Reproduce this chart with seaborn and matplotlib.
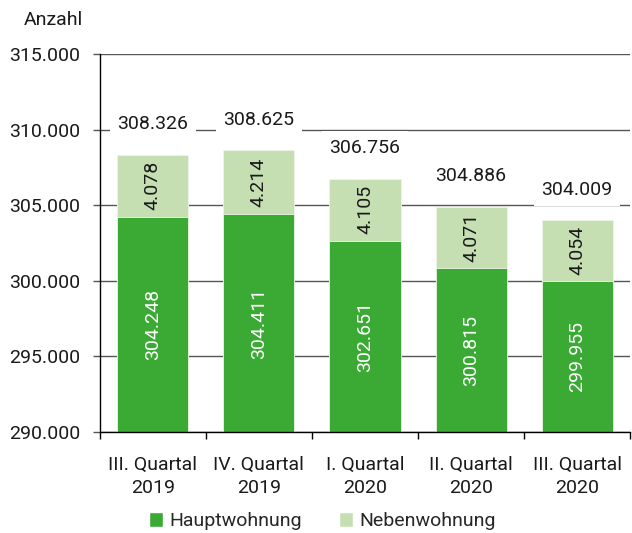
import pandas as pd
import matplotlib.pyplot as plt
import seaborn as sns
from matplotlib.patches import Patch

# Werte aus der Grafik
quartale = ["III. Quartal\n2019", "IV. Quartal\n2019", "I. Quartal\n2020",
            "II. Quartal\n2020", "III. Quartal\n2020"]
hauptwohnung = [304248, 304411, 302651, 300815, 299955]
nebenwohnung = [4078, 4214, 4105, 4071, 4054]
gesamt = [308326, 308625, 306756, 304886, 304009]

farbe_haupt = "#3aaa35"
farbe_neben = "#c5dfb3"

df = pd.DataFrame({"Quartal": quartale,
                   "Haupt": hauptwohnung,
                   "Neben": nebenwohnung,
                   "Gesamt": gesamt})

sns.set_style("white")
plt.rcParams["font.family"] = ["Roboto", "DejaVu Sans"]
fs = 14

fig = plt.figure(figsize=(6.32, 5.33), dpi=100)
ax = fig.add_axes([0.158, 0.1895, 0.839, 0.7092])


def de(v):
    return f"{v:,}".replace(",", ".")


# Gestapelte Balken: erst Gesamt (hell), dann Hauptwohnung darüber
sns.barplot(data=df, x="Quartal", y="Gesamt", color=farbe_neben, width=0.67,
            saturation=1, edgecolor="#eef6e8", linewidth=0.6, ax=ax, zorder=2)
sns.barplot(data=df, x="Quartal", y="Haupt", color=farbe_haupt, width=0.67,
            saturation=1, edgecolor="#eef6e8", linewidth=0.6, ax=ax, zorder=2)

ax.set_ylim(290000, 315000)
ax.set_xlim(-0.5, 4.5)
ax.set_yticks(range(290000, 315001, 5000))
ax.set_yticklabels([de(v) for v in range(290000, 315001, 5000)], fontsize=fs,
                   color="#1a1a1a")
ax.yaxis.grid(True, color="#555555", linewidth=1.0, zorder=0)
ax.set_axisbelow(True)
ax.tick_params(axis="y", length=5, width=1, color="#555555", pad=9, left=True)

# x-Ticks an Kategoriegrenzen, Beschriftung in der Mitte
ax.set_xticks([i - 0.5 for i in range(6)], minor=False)
ax.set_xticklabels([])
ax.set_xticks(range(5), minor=True)
ax.set_xticklabels(quartale, minor=True, fontsize=fs, linespacing=1.35,
                   color="#1a1a1a")
ax.tick_params(axis="x", which="major", length=5, width=1, color="black", bottom=True)
ax.tick_params(axis="x", which="minor", length=0, pad=17)
ax.set_xlabel("")
ax.set_ylabel("")

for s in ["top", "right"]:
    ax.spines[s].set_visible(False)
ax.spines["left"].set_color("black")
ax.spines["bottom"].set_color("black")
ax.spines["left"].set_linewidth(1.0)
ax.spines["bottom"].set_linewidth(1.0)

for i in range(len(quartale)):
    h = hauptwohnung[i]
    n = nebenwohnung[i]
    ax.text(i, (290000 + h) / 2, de(h), rotation=90, ha="center", va="center",
            color="white", fontsize=fs, zorder=4)
    ax.text(i, h + n / 2, de(n), rotation=90, ha="center", va="center",
            color="#1a1a1a", fontsize=fs, zorder=4)
    ax.annotate(de(gesamt[i]), (i, gesamt[i]), xytext=(0, 22),
                textcoords="offset points", ha="center", va="center",
                fontsize=fs, color="#1a1a1a", zorder=4,
                bbox=dict(boxstyle="square,pad=0.4", fc="white", ec="none"))

fig.text(0.037, 0.962, "Anzahl", fontsize=fs, ha="left", va="center",
         color="#1a1a1a")

# Legende
handles = [Patch(facecolor=farbe_haupt, label="Hauptwohnung"),
           Patch(facecolor=farbe_neben, label="Nebenwohnung")]
fig.legend(handles=handles, loc="center", bbox_to_anchor=(0.51, 0.022), ncol=2,
           frameon=False, fontsize=fs, handlelength=0.75, handleheight=0.75,
           handletextpad=0.3, columnspacing=1.9, borderaxespad=0)

fig.savefig("out.png", dpi=100)
